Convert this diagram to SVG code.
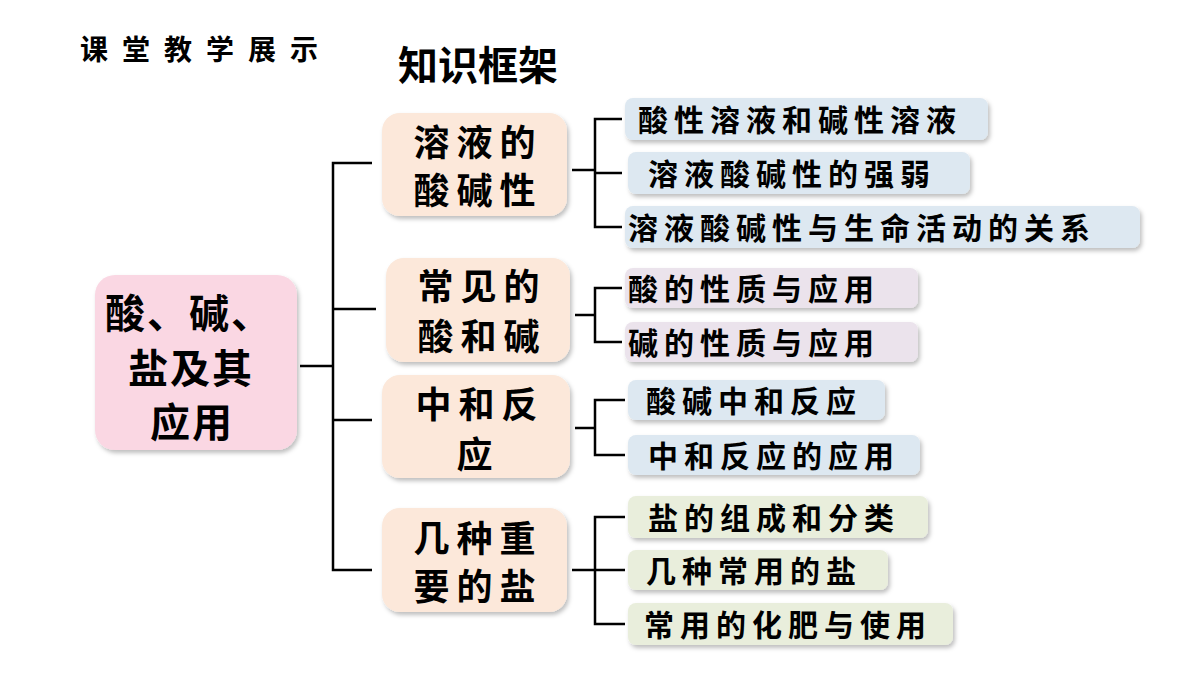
<svg xmlns="http://www.w3.org/2000/svg" width="1200" height="675" viewBox="0 0 1200 675">
<defs>
<filter id="sh" x="-10%" y="-10%" width="130%" height="140%"><feDropShadow dx="2" dy="3" stdDeviation="2" flood-color="#000" flood-opacity="0.25"/></filter>
</defs>
<style>
text{font-family:"Noto Sans CJK SC","Noto Sans CJK JP",sans-serif;font-weight:bold;fill:#000}
.r{fill:#fad7e3;filter:url(#sh)}
.l1{fill:#fce8da;filter:url(#sh)}
.b{fill:#dde8f1;filter:url(#sh)}
.p{fill:#ebe3ec;filter:url(#sh)}
.g{fill:#e9eedc;filter:url(#sh)}
.t1{font-size:36px;letter-spacing:7px;text-anchor:middle}
.t2{font-size:30px;letter-spacing:6px}
.t0{font-size:40px;letter-spacing:2px}
line,polyline{stroke:#000;stroke-width:2.5;fill:none}
</style>
<rect width="1200" height="675" fill="#fff"/>
<text x="80" y="60" font-size="28" letter-spacing="14">课堂教学展示</text>
<text x="398" y="80" font-size="40">知识框架</text>
<g id="connectors">
<line x1="300" y1="366" x2="333" y2="366"/>
<polyline points="372,163 333,163 333,570 372,570"/>
<line x1="333" y1="309" x2="376" y2="309"/>
<line x1="333" y1="420" x2="372" y2="420"/>
<line x1="572" y1="170" x2="595" y2="170"/>
<polyline points="622,119 595,119 595,227 622,227"/>
<line x1="595" y1="173" x2="622" y2="173"/>
<line x1="575" y1="315" x2="595" y2="315"/>
<polyline points="622,288 595,288 595,342 622,342"/>
<line x1="575" y1="428" x2="595" y2="428"/>
<polyline points="625,400 595,400 595,455 625,455"/>
<line x1="572" y1="570" x2="595" y2="570"/>
<polyline points="625,517 595,517 595,624 625,624"/>
<line x1="595" y1="570" x2="625" y2="570"/>
</g>
<g id="root"><rect class="r" x="95" y="275" width="202" height="175" rx="20"/>
<text class="t0" x="105" y="328">酸、碱、</text>
<text class="t0" x="128" y="383">盐及其</text>
<text class="t0" x="150" y="437">应用</text></g>
<g id="n1"><rect class="l1" x="382" y="113" width="185" height="103" rx="18"/>
<text class="t1" x="478" y="156">溶液的</text><text class="t1" x="478" y="204">酸碱性</text></g>
<g id="n2"><rect class="l1" x="386" y="258" width="184" height="104" rx="18"/>
<text class="t1" x="482" y="300">常见的</text><text class="t1" x="482" y="350">酸和碱</text></g>
<g id="n3"><rect class="l1" x="382" y="375" width="188" height="103" rx="18"/>
<text class="t1" x="480" y="418">中和反</text><text class="t1" x="478" y="468">应</text></g>
<g id="n4"><rect class="l1" x="382" y="508" width="185" height="104" rx="18"/>
<text class="t1" x="478" y="552">几种重</text><text class="t1" x="478" y="600">要的盐</text></g>
<g id="a1"><rect class="b" x="625" y="98" width="363" height="42" rx="8"/><text class="t2" x="638" y="131">酸性溶液和碱性溶液</text></g>
<g id="a2"><rect class="b" x="628" y="152" width="342" height="42" rx="8"/><text class="t2" x="648" y="185">溶液酸碱性的强弱</text></g>
<g id="a3"><rect class="b" x="625" y="206" width="515" height="42" rx="8"/><text class="t2" x="628" y="239" letter-spacing="7">溶液酸碱性与生命活动的关系</text></g>
<g id="b1"><rect class="p" x="625" y="268" width="293" height="40" rx="8"/><text class="t2" x="628" y="300" letter-spacing="7">酸的性质与应用</text></g>
<g id="b2"><rect class="p" x="625" y="322" width="293" height="40" rx="8"/><text class="t2" x="628" y="354" letter-spacing="7">碱的性质与应用</text></g>
<g id="c1"><rect class="b" x="628" y="380" width="257" height="40" rx="8"/><text class="t2" x="646" y="412">酸碱中和反应</text></g>
<g id="c2"><rect class="b" x="628" y="435" width="292" height="40" rx="8"/><text class="t2" x="648" y="467">中和反应的应用</text></g>
<g id="d1"><rect class="g" x="628" y="496" width="300" height="42" rx="8"/><text class="t2" x="648" y="529">盐的组成和分类</text></g>
<g id="d2"><rect class="g" x="628" y="550" width="260" height="40" rx="8"/><text class="t2" x="646" y="582">几种常用的盐</text></g>
<g id="d3"><rect class="g" x="628" y="603" width="325" height="42" rx="8"/><text class="t2" x="644" y="636">常用的化肥与使用</text></g>
</svg>
